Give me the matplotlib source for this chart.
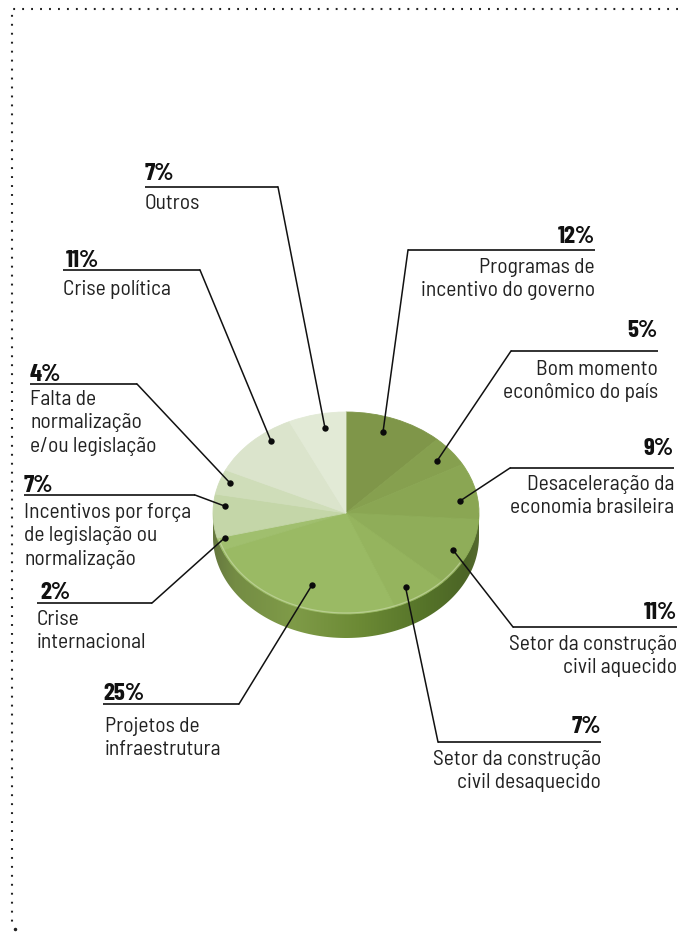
import numpy as np
import matplotlib
matplotlib.use("Agg")
import matplotlib.pyplot as plt
from matplotlib.patches import PathPatch
from matplotlib.path import Path
from matplotlib.colors import to_rgb

plt.rcParams['font.family'] = ['Barlow Semi Condensed', 'Roboto', 'DejaVu Sans']

# clockwise from 12 o'clock
values = [12, 5, 9, 11, 7, 25, 2, 7, 4, 11, 7]
labels = [
    "Programas de\nincentivo do governo",
    "Bom momento\neconômico do país",
    "Desaceleração da\neconomia brasileira",
    "Setor da construção\ncivil aquecido",
    "Setor da construção\ncivil desaquecido",
    "Projetos de\ninfraestrutura",
    "Crise\ninternacional",
    "Incentivos por força\nde legislação ou\nnormalização",
    "Falta de\nnormalização\ne/ou legislação",
    "Crise política",
    "Outros",
]
slice_colors = ["#7f9649", "#86a04f", "#8aa653", "#8fad59", "#95b45e", "#9aba64",
                "#a0bf6e", "#c4d6a8", "#cfddb9", "#dbe4cc", "#e2ead6"]

W, H = 681, 932
CX, CY, RX, RY, DEPTH = 346, 513, 133, 101, 24

# leader layout: rule x0, rule x1, rule y, dot x, dot y, align side
leaders = [
    (408, 595, 250, 383, 432, 'right'),
    (511, 658, 351, 437, 461, 'right'),
    (510, 674, 468, 460, 501, 'right'),
    (513, 677, 627, 453, 550, 'right'),
    (438, 601, 742, 405.5, 587, 'right'),
    (103, 239, 704, 312, 585, 'left'),
    (37, 152, 603, 224.5, 538, 'left'),
    (24, 195, 495, 224.5, 506, 'left'),
    (30, 137, 384, 230, 483, 'left'),
    (63, 200, 270, 271, 441, 'left'),
    (145, 278, 187, 325, 428, 'left'),
]
# offset of the first label line below the rule, and of the percent baseline above it
label_gap = [15, 16, 14, 15, 15, 20, 14, 15, 13, 17, 14]
pct_gap = [7, 14, 13, 8, 9, 4, 4, 3, 3, 3, 7]

fig = plt.figure(figsize=(W / 100, H / 100), dpi=100)
ax = fig.add_axes([0, 0, 1, 1])
ax.set_xlim(0, W)
ax.set_ylim(H, 0)
ax.axis('off')

# dotted frame
ax.plot([678, 12, 12], [9, 9, 926], color='#222222', lw=1.5,
        linestyle=(0, (0.9, 3.4)), zorder=1)
ax.plot([14.5], [929], marker='o', ms=1.5, color='#222222', zorder=1)

# side of the disc: gradient clipped to a swept ellipse
t = np.linspace(0, np.pi, 120)
xs = CX + RX * np.cos(t)
ys = CY + DEPTH + RY * np.sin(t)
side_verts = [(CX + RX, CY)] + list(zip(xs, ys)) + [(CX - RX, CY), (CX + RX, CY)]
side_path = Path(side_verts)

ramp_x = [0, 0.08, 0.3, 0.55, 0.8, 0.95, 1]
ramp_c = ["#66783f", "#748c44", "#7f9b48", "#6c8a35", "#557329", "#4c6526", "#55692f"]
rgb = np.array([to_rgb(c) for c in ramp_c])
u = np.linspace(0, 1, 300)
grad = np.stack([np.interp(u, ramp_x, rgb[:, i]) for i in range(3)], axis=-1)[None, :, :]
im = ax.imshow(grad, extent=(CX - RX, CX + RX, CY + RY + DEPTH, CY), aspect='auto', zorder=2)
patch = PathPatch(side_path, transform=ax.transData, fc='none', ec='none')
ax.add_patch(patch)
im.set_clip_path(patch)
ax.set_xlim(0, W)
ax.set_ylim(H, 0)

# top face: a pie squashed by its own axes box
pie_ax = fig.add_axes([(CX - RX) / W, 1 - (CY + RY) / H, 2 * RX / W, 2 * RY / H], zorder=3)
pie_ax.pie(values, colors=slice_colors, startangle=90, counterclock=False, radius=1,
           wedgeprops={'linewidth': 0.6})
for w, c in zip(pie_ax.patches, slice_colors):
    w.set_edgecolor(c)
pie_ax.set_aspect('auto')
pie_ax.set_xlim(-1, 1)
pie_ax.set_ylim(-1, 1)
pie_ax.patch.set_alpha(0)

# leaders and text go on top of the pie
top = fig.add_axes([0, 0, 1, 1], zorder=4)
top.set_xlim(0, W)
top.set_ylim(H, 0)
top.axis('off')
top.patch.set_alpha(0)

# pale bevel along the lower front edge
t2 = np.linspace(np.radians(30), np.radians(165), 80)
top.plot(CX + (RX - 1.5) * np.cos(t2), CY + (RY - 1) * np.sin(t2), color='#cddcae', lw=0.9, alpha=0.6)

for val, lab, (x0, x1, y, dx, dy, side), gap, pg in zip(values, labels, leaders, label_gap, pct_gap):
    if side == 'right':
        elbow = x0
        tx, ha = x1, 'right'
    else:
        elbow = x1
        tx, ha = x0, 'left'
    top.plot([x0, x1], [y, y], color='#222222', lw=1.3, solid_capstyle='butt')
    top.plot([elbow, dx], [y, dy], color='#111111', lw=1.1)
    top.plot([dx], [dy], marker='o', ms=4.6, color='#0b0b0b', mew=0)
    top.text(tx + (3 if x0 in (63, 37) else 0), y - pg, f"{val}%", family=['Barlow Condensed', 'DejaVu Sans'],
             ha=ha, va='baseline', fontsize=18, fontweight='bold', color='#111111')
    top.text(tx + (2 if val == 25 else 0), y + gap - 7, lab, ha=ha, va='top', fontsize=15.5,
             color='#222222', linespacing=1.29)

fig.savefig("out.png", dpi=100)
